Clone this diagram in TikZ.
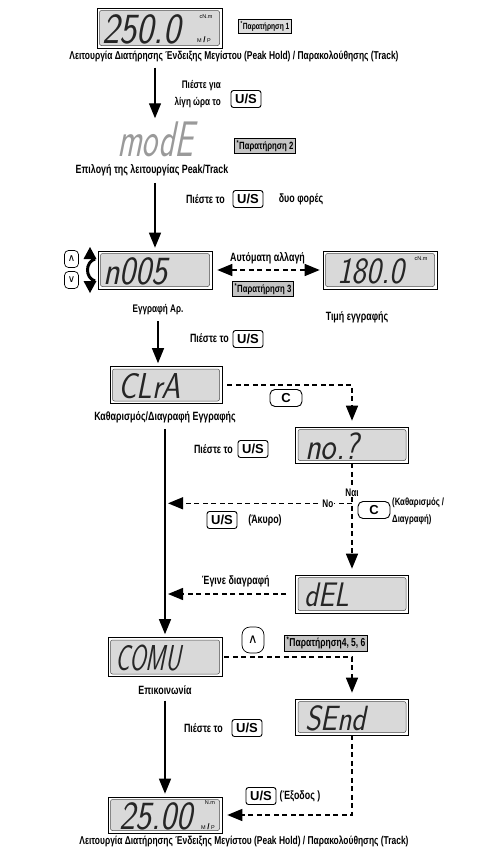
\documentclass[tikz,border=0pt]{standalone}
\usepackage{fontspec}
\usetikzlibrary{arrows.meta,positioning}
\newfontfamily\capfont{Liberation Sans}[FakeStretch=0.74]
\newfontfamily\keyfont{Liberation Sans}
\newfontfamily\lcdfont{Latin Modern Sans}[FakeSlant=0.2,FakeStretch=0.85]
\newfontfamily\lcdnarrow{Latin Modern Sans}[FakeSlant=0.2,FakeStretch=0.66]
\newfontfamily\symfont{DejaVu Sans}
\definecolor{lcdc}{HTML}{D9D9D9}
\definecolor{notec}{HTML}{C4C4C4}
\definecolor{modec}{HTML}{9A9A9A}

\begin{document}
\begin{tikzpicture}[x=1pt, y=-1pt, font=\capfont]
  \tikzset{
    lcd/.style={draw, fill=white, line width=0.6pt, minimum width=114pt, minimum height=38pt, inner sep=0pt,
      path picture={\draw[fill=lcdc, rounded corners=2pt, line width=0.5pt, draw=black!70]
        ([shift={(2.5pt,-2.5pt)}]path picture bounding box.north west) rectangle
        ([shift={(-2.5pt,2.5pt)}]path picture bounding box.south east);}},
    digits/.style={font=\lcdfont\fontsize{40}{40}\selectfont, text=black!85, anchor=west, inner sep=0pt},
    unit/.style={font=\keyfont\fontsize{5.5}{6}\selectfont, inner sep=0pt},
    note/.style={draw, fill=notec, line width=0.6pt, font=\capfont\bfseries\fontsize{10.5}{11}\selectfont, inner sep=2pt},
    key/.style={draw, line width=0.9pt, rounded corners=2.5pt, font=\keyfont\bfseries\fontsize{13}{13}\selectfont,
      inner sep=1pt, minimum width=30pt, minimum height=17pt},
    ckey/.style={key, rounded corners=5pt, minimum width=32pt},
    arrowkey/.style={draw, line width=0.7pt, rounded corners=4pt, minimum width=14pt, minimum height=17pt,
      inner sep=0pt, font=\symfont\fontsize{10}{10}\selectfont},
    lab/.style={font=\capfont\bfseries\fontsize{12}{13}\selectfont, inner sep=1pt},
    capt/.style={font=\capfont\bfseries\fontsize{12}{13}\selectfont, inner sep=0pt},
    flow/.style={line width=1.3pt, -{Triangle[length=15pt,width=12pt]}, shorten >=3pt},
    jump/.style={line width=1.4pt, dash pattern=on 5pt off 3.5pt, -{Triangle[length=15pt,width=12pt]}, shorten >=6pt}
  }
  \useasboundingbox (0,0) rectangle (499,854);

  % top display -- peak hold / track
  \node[lcd, minimum width=125pt, minimum height=40pt] (peak) at (159.5,28) {};
  \node[digits, font=\lcdfont\fontsize{43}{43}\selectfont] (peakv) at (102,29) {250.0};
  \node[unit] (peaku) at (206,17) {cN.m};
  \node[unit] (peakm) at (204,40) {M {\fontsize{8}{8}\selectfont\textbf{/}} P};
  \node[note, fill=notec!60, font=\capfont\bfseries\fontsize{9}{10}\selectfont] (note1) at (265,26) {\textsuperscript{*}Παρατήρηση 1};
  \node[capt, font=\capfont\bfseries\fontsize{11.4}{12}\selectfont] (cap1) at (234,56) {Λειτουργία Διατήρησης Ένδειξης Μεγίστου (Peak Hold) / Παρακολούθησης (Track)};

  % mode
  \node[digits, anchor=center, text=modec, font=\lcdnarrow\fontsize{50}{50}\selectfont] (mode) at (155,139) {modE};
  \node[note] (note2) at (265,146) {\textsuperscript{*}Παρατήρηση 2};
  \node[capt] (cap2) at (152,170) {Επιλογή της λειτουργίας Peak/Track};
  \node[lab, anchor=east, align=right, font=\capfont\bfseries\fontsize{11}{17}\selectfont] (hold) at (222,94) {Πιέστε για\\λίγη ώρα το};
  \node[key] (us1) at (246,99) {U/S};
  \draw[flow, shorten <=6pt] (cap1.south -| mode) -- (mode.north);

  \node[lab, anchor=east] (press2) at (226,199) {Πιέστε το};
  \node[key] (us2) at (248,199) {U/S};
  \node[lab] (twice) at (301,199) {δυο φορές};

  % record no. / record value
  \node[lcd] (nrec) at (155,270) {};
  \node[digits] (nrecv) at (103,271) {n005};
  \node[arrowkey] (upk) at (71.5,259) {∧};
  \node[arrowkey] (dnk) at (71.5,280) {∨};
  \fill (90,247) -- (96.5,259) -- (83.5,259) -- cycle;
  \fill (90,293) -- (96.5,281) -- (83.5,281) -- cycle;
  \draw[line width=3pt] (95,259) .. controls (85,262) and (85,278) .. (95,281);
  \draw[flow, shorten <=7pt] (cap2.south -| nrec) -- (nrec.north);

  \node[lcd] (val) at (380,270) {};
  \node[digits, font=\lcdfont\fontsize{37}{37}\selectfont] (valv) at (337,271) {180.0};
  \node[unit] (valu) at (421,259) {cN.m};
  \draw[jump, {Triangle[length=15pt,width=12pt]}-{Triangle[length=15pt,width=12pt]}, shorten <=5pt, shorten >=3pt]
    (nrec.east) -- node[lab, above=4pt] (auto) {Αυτόματη αλλαγή} (val.west);
  \node[note] (note3) at (263,289) {\textsuperscript{*}Παρατήρηση 3};
  \node[capt, font=\capfont\bfseries\fontsize{11}{12}\selectfont] (caprec) at (158,310) {Εγγραφή Αρ.};
  \node[capt] (capval) at (357,317) {Τιμή εγγραφής};

  % clear record
  \node[lcd, minimum width=112pt, minimum height=37pt] (clra) at (166,385) {};
  \node[digits, font=\lcdfont\fontsize{36}{36}\selectfont] (clrav) at (118,386) {CLrA};
  \node[capt] (capclr) at (165,417) {Καθαρισμός/Διαγραφή Εγγραφής};
  \draw[flow, shorten <=6pt] (caprec.south) -- (caprec.south |- clra.north);
  \node[lab, anchor=east] (press3) at (230,338) {Πιέστε το};
  \node[key] (us3) at (248,339) {U/S};

  \node[ckey] (ck1) at (286,398) {C};
  \node[lcd, minimum width=113pt, minimum height=36pt] (nop) at (352,445) {};
  \node[digits, font=\lcdfont\fontsize{38}{38}\selectfont] (nopv) at (305,446) {no.?};
  \draw[jump, shorten <=5pt] (clra.east) -- (clra.east -| nop.north) -- (nop.north);
  \node[lab, anchor=east] (press4) at (234,449) {Πιέστε το};
  \node[key] (us4) at (253,449) {U/S};

  \node[lcd, minimum width=113pt, minimum height=38pt] (dl) at (352,594) {};
  \node[digits, font=\lcdfont\fontsize{34}{34}\selectfont] (dlv) at (304,595) {dEL};
  \draw[jump] (nop.south) -- node[lab, fill=white, pos=0.26, font=\capfont\bfseries\fontsize{11}{12}\selectfont] (yes) {Ναι} (dl.north);
  \path (nop.south) ++(0,40) coordinate (split);
  \draw[jump, shorten >=2pt] (split) -- node[lab, fill=white, pos=0.13, font=\capfont\bfseries\fontsize{11}{12}\selectfont] (no) {No} (split -| clra.south);
  \node[key] (us5) at (222,520) {U/S};
  \node[lab] (cancel) at (265,520) {(Άκυρο)};
  \node[ckey] (ck2) at (374,510) {C};
  \node[lab, anchor=west, align=left, font=\capfont\bfseries\fontsize{10.5}{17}\selectfont] (clrtxt) at (391,511) {(Καθαρισμός /\\Διαγραφή)};
  \draw[jump, shorten <=9pt, shorten >=2pt] (dl.west) -- node[lab, above=5pt, pos=0.46] (done) {Έγινε διαγραφή} (dl.west -| clra.south);

  % communication
  \node[lcd, minimum width=114pt, minimum height=39pt] (comu) at (165,657) {};
  \node[digits, font=\lcdnarrow\fontsize{36}{36}\selectfont] (comuv) at (115,658) {COMU};
  \node[capt] (capcom) at (165,690) {Επικοινωνία};
  \draw[flow, shorten <=6pt] (capclr.south) -- (capclr.south |- comu.north);
  \node[arrowkey, minimum width=22pt, minimum height=26pt, rounded corners=8pt, font=\symfont\fontsize{13}{13}\selectfont] (upk2) at (253,640) {∧};
  \node[note, font=\capfont\bfseries\fontsize{11.5}{12}\selectfont] (note4) at (326,643) {\textsuperscript{*}Παρατήρηση4, 5, 6};

  \node[lcd, minimum width=113pt, minimum height=36pt] (snd) at (352,717) {};
  \node[digits, font=\lcdfont\fontsize{35}{35}\selectfont] (sndv) at (305,718) {SEnd};
  \draw[jump, shorten <=2pt] (comu.east) -- (comu.east -| snd.north) -- (snd.north);

  % back to peak hold / track
  \node[lcd, minimum height=36pt] (peak2) at (165,815) {};
  \node[digits] (peak2v) at (119,816) {25.00};
  \node[unit] (peak2u) at (210,803) {N.m};
  \node[unit] (peak2m) at (208,827) {M {\fontsize{8}{8}\selectfont\textbf{/}} P};
  \node[capt, font=\capfont\bfseries\fontsize{11.4}{12}\selectfont] (cap3) at (244,841) {Λειτουργία Διατήρησης Ένδειξης Μεγίστου (Peak Hold) / Παρακολούθησης (Track)};
  \draw[flow, shorten <=6pt] (capcom.south) -- (capcom.south |- peak2.north);
  \node[lab, anchor=east] (press5) at (224,728) {Πιέστε το};
  \node[key] (us6) at (247,728) {U/S};

  \draw[jump, shorten >=5pt] (snd.south) -- (snd.south |- peak2.east) -- (peak2.east);
  \node[key] (us7) at (261,796) {U/S};
  \node[lab] (exit) at (300,796) {(Έξοδος )};
\end{tikzpicture}
\end{document}
